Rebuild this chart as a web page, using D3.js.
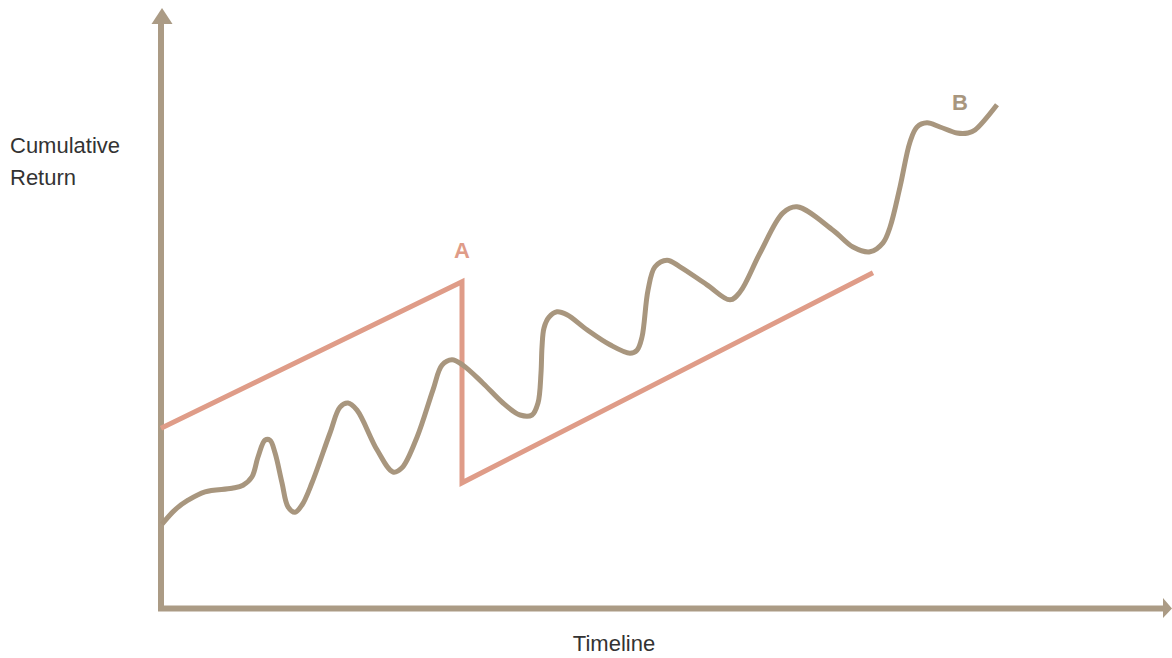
<!DOCTYPE html>
<html lang="en">

<head>
    <meta charset="UTF-8">
    <script src="https://d3js.org/d3.v7.min.js"></script>
    <title>cumulative return</title>
    <style>
        body { margin: 0; background: #fff; }
        .axis-label { font-family: "Liberation Sans", Arial, sans-serif; font-size: 22px; fill: #333; }
        .point-label { font-family: "Liberation Sans", Arial, sans-serif; font-size: 22px; font-weight: 700; }
    </style>
</head>

<body>
    <div id="chart"></div>
    <script>
        // Data (timeline 0-100, return 0-100)
        const actualX = [0.1, 1.4, 2.7, 4.4, 7.1, 8.2, 9.1, 9.7, 10.4, 10.9, 11.4, 12.1, 12.7, 13.4, 14.1, 15.1,
            16.9, 17.9, 18.7, 19.6, 21.6, 23.2, 24.1, 25.6, 27.2, 28.1, 29.1, 30.2, 32.2, 34.2, 35.9, 37.1,
            37.7, 38.0, 38.1, 38.3, 38.8, 39.6, 40.6, 42.6, 44.9, 46.9, 47.6, 48.1, 48.7, 49.4, 50.6, 51.9,
            54.6, 56.9, 57.9, 59.9, 62.2, 63.6, 67.2, 69.2, 70.9, 72.2, 72.9, 73.9, 74.9, 75.6, 76.6,
            77.9, 79.6, 80.7, 81.4, 83.6];
        const actualY = [13.8, 16.2, 17.8, 19.2, 19.8, 20.3, 21.7, 25.0, 27.8, 27.8, 25.7, 20.7, 16.7, 15.8, 17.0, 20.7,
            29.0, 33.3, 34.0, 32.8, 26.2, 22.5, 23.2, 28.3, 36.2, 40.3, 41.2, 40.3, 37.3, 34.0, 32.0, 32.0,
            34.0, 39.0, 43.3, 46.5, 48.3, 49.2, 48.7, 46.2, 43.7, 42.3, 42.8, 45.0, 52.8, 56.7, 57.8, 56.7,
            53.7, 51.2, 52.5, 59.0, 65.7, 66.7, 62.8, 60.0, 59.2, 60.7, 63.3, 70.0, 77.5, 80.0, 80.7,
            80.0, 79.0, 79.0, 79.5, 83.7];
        const perceivedX = [0, 30.1, 30.1, 71.2];
        const perceivedY = [29.8, 54.2, 20.7, 55.7];
        const labels = ["A", "B"];
        const labelX = [30.1, 79.9];
        const labelY = [58.2, 82.8];

        const width = 1172;
        const height = 658;
        const brown = "#a8967e";
        const salmon = "#df9c88";

        const svg = d3.select("#chart")
            .append("svg")
            .attr("width", width)
            .attr("height", height);

        // Scales
        const x = d3.scaleLinear().domain([0, 100]).range([161, 1161]);
        const y = d3.scaleLinear().domain([0, 100]).range([607, 7]);

        // Axes with arrow heads
        const axes = svg.append("g").attr("fill", "#ab9b85").attr("stroke", "#ab9b85");
        axes.append("line")
            .attr("x1", x(0)).attr("y1", y(0) + 4)
            .attr("x2", x(0)).attr("y2", 22)
            .attr("stroke-width", 6);
        axes.append("path")
            .attr("stroke", "none")
            .attr("d", `M${x(0) - 9.5},24 L${x(0) + 1},8 L${x(0) + 11.5},24 Z`);
        axes.append("line")
            .attr("x1", x(0) - 3).attr("y1", y(0) + 1.5)
            .attr("x2", 1165).attr("y2", y(0) + 1.5)
            .attr("stroke-width", 6);
        axes.append("path")
            .attr("stroke", "none")
            .attr("d", `M1163,${y(0) - 9} L1172,${y(0) + 1.5} L1163,${y(0) + 11} Z`);

        // Lines
        const actual = actualX.map((d, i) => [d, actualY[i]]);
        const perceived = perceivedX.map((d, i) => [d, perceivedY[i]]);

        svg.append("path")
            .datum(perceived)
            .attr("fill", "none")
            .attr("stroke", salmon)
            .attr("stroke-width", 5)
            .attr("d", d3.line().x(d => x(d[0])).y(d => y(d[1])));

        svg.append("path")
            .datum(actual)
            .attr("fill", "none")
            .attr("stroke", brown)
            .attr("stroke-width", 5)
            .attr("stroke-linejoin", "round")
            .attr("d", d3.line().x(d => x(d[0])).y(d => y(d[1])).curve(d3.curveCatmullRom.alpha(0.5)));

        // Point labels
        svg.selectAll("text.point-label")
            .data(labels)
            .join("text")
            .attr("class", "point-label")
            .attr("x", (d, i) => x(labelX[i]))
            .attr("y", (d, i) => y(labelY[i]))
            .attr("text-anchor", "middle")
            .attr("fill", (d, i) => i === 0 ? salmon : brown)
            .text(d => d);

        // Axis titles
        svg.append("text")
            .attr("class", "axis-label")
            .attr("x", 10)
            .attr("y", 153)
            .html(`<tspan x="10">Cumulative</tspan><tspan x="10" dy="32">Return</tspan>`);

        svg.append("text")
            .attr("class", "axis-label")
            .attr("x", 614)
            .attr("y", 651)
            .attr("text-anchor", "middle")
            .text("Timeline");
    </script>
</body>

</html>
